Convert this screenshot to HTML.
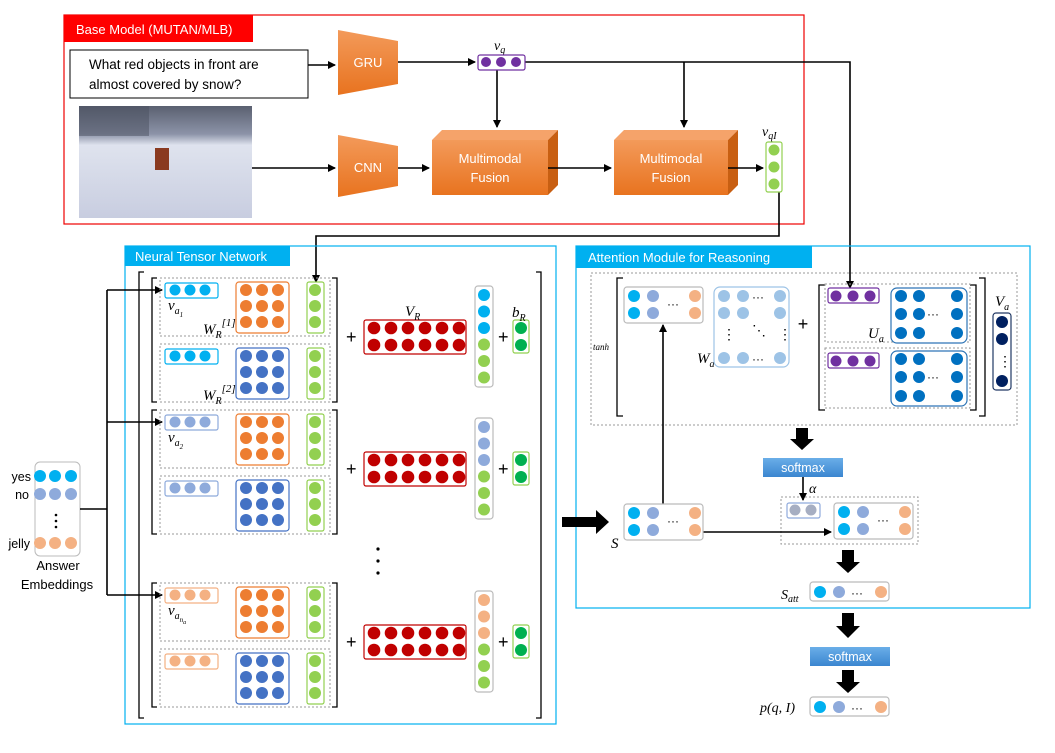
<!DOCTYPE html>
<html><head><meta charset="utf-8"><style>
body{margin:0;background:#fff}
svg{display:block}
text{font-family:"Liberation Sans",sans-serif}
.m{font-family:"Liberation Serif",serif;font-style:italic}
</style></head><body>
<svg id="s" width="1055" height="753" viewBox="0 0 1055 753" xmlns="http://www.w3.org/2000/svg">
<defs>
<marker id="a" markerWidth="8" markerHeight="8" refX="7" refY="4" orient="auto" markerUnits="userSpaceOnUse"><path d="M0,0L8,4L0,8z" fill="#000"/></marker>
<linearGradient id="og" x1="0" y1="0" x2="0" y2="1"><stop offset="0" stop-color="#f39a5a"/><stop offset="1" stop-color="#e8731f"/></linearGradient>
<linearGradient id="sg" x1="0" y1="0" x2="0" y2="1"><stop offset="0" stop-color="#6aaee8"/><stop offset="1" stop-color="#3b86d0"/></linearGradient>
<linearGradient id="snow" x1="0" y1="0" x2="0" y2="1"><stop offset="0" stop-color="#5a6070"/><stop offset="0.25" stop-color="#8c93a8"/><stop offset="0.35" stop-color="#dfe3ee"/><stop offset="1" stop-color="#c8cde0"/></linearGradient>
</defs>
<rect x="64" y="15" width="740" height="209" fill="none" stroke="#e00" stroke-width="1.2"/>
<rect x="64" y="15" width="189" height="27" fill="#f00"/>
<text x="76" y="34" font-size="13" fill="#fff">Base Model (MUTAN/MLB)</text>
<rect x="70" y="50" width="238" height="48" fill="#fff" stroke="#000"/>
<text x="89" y="69" font-size="13.5">What red objects in front are</text>
<text x="89" y="89" font-size="13.5">almost covered by snow?</text>
<rect x="79" y="106" width="173" height="112" fill="url(#snow)"/>
<rect x="79" y="106" width="70" height="30" fill="#4a5060" opacity="0.5"/>
<rect x="155" y="148" width="14" height="22" fill="#8a3a20"/>
<polygon points="338,30 398,41 398,84 338,95" fill="url(#og)"/>
<text x="368" y="67" font-size="13" fill="#fff" text-anchor="middle">GRU</text>
<polygon points="338,135 398,146 398,186 338,197" fill="url(#og)"/>
<text x="368" y="172" font-size="13" fill="#fff" text-anchor="middle">CNN</text>
<polygon points="432,140 442,130 558,130 548,140" fill="#f5a36a"/>
<polygon points="548,140 558,130 558,185 548,195" fill="#c85f12"/>
<rect x="432" y="140" width="116" height="55" fill="url(#og)"/>
<text x="490" y="163" font-size="13" fill="#fff" text-anchor="middle">Multimodal</text>
<text x="490" y="182" font-size="13" fill="#fff" text-anchor="middle">Fusion</text>
<polygon points="614,140 624,130 738,130 728,140" fill="#f5a36a"/>
<polygon points="728,140 738,130 738,185 728,195" fill="#c85f12"/>
<rect x="614" y="140" width="114" height="55" fill="url(#og)"/>
<text x="671" y="163" font-size="13" fill="#fff" text-anchor="middle">Multimodal</text>
<text x="671" y="182" font-size="13" fill="#fff" text-anchor="middle">Fusion</text>
<text x="494" y="50" font-size="14" class="m">v<tspan font-size="10" dy="3">q</tspan></text>
<text x="762" y="136" font-size="14" class="m">v<tspan font-size="10" dy="3">qI</tspan></text>
<g stroke="#000" stroke-width="1.6" fill="none">
<path d="M308,65H335" marker-end="url(#a)"/>
<path d="M398,62H475" marker-end="url(#a)"/>
<path d="M525,62H850V288" marker-end="url(#a)"/>
<path d="M497,70V127" marker-end="url(#a)"/>
<path d="M684,62V127" marker-end="url(#a)"/>
<path d="M252,168H335" marker-end="url(#a)"/>
<path d="M398,168H429" marker-end="url(#a)"/>
<path d="M548,168H611" marker-end="url(#a)"/>
<path d="M728,168H763" marker-end="url(#a)"/>
<path d="M779,192V236H316V282" marker-end="url(#a)"/>
</g>
<rect x="125" y="246" width="431" height="478" fill="none" stroke="#00b0f0" stroke-width="1.2"/>
<rect x="125" y="246" width="165" height="20" fill="#00b0f0"/>
<text x="135" y="261" font-size="13" fill="#fff">Neural Tensor Network</text>
<g stroke="#000" stroke-width="1.3" fill="none">
<path d="M144,272H139V718H144"/><path d="M536,272H541V718H536"/>
</g>
<g fill="#000"><circle cx="378" cy="549" r="1.6"/><circle cx="378" cy="561" r="1.6"/><circle cx="378" cy="573" r="1.6"/></g>
<rect x="35" y="462" width="45" height="94" rx="5" fill="#fff" stroke="#bbb"/>
<text x="31" y="481" font-size="12.5" text-anchor="end">yes</text>
<text x="29" y="499" font-size="12.5" text-anchor="end">no</text>
<text x="30" y="548" font-size="12.5" text-anchor="end">jelly</text>
<g fill="#000"><circle cx="56" cy="515" r="1.3"/><circle cx="56" cy="521" r="1.3"/><circle cx="56" cy="527" r="1.3"/></g>
<text x="58" y="570" font-size="13" text-anchor="middle">Answer</text>
<text x="57" y="589" font-size="13" text-anchor="middle">Embeddings</text>
<g stroke="#000" stroke-width="1.6" fill="none">
<path d="M80,509H107"/><path d="M107,290V595"/>
<path d="M107,290H162" marker-end="url(#a)"/>
<path d="M107,422H162" marker-end="url(#a)"/>
<path d="M107,595H162" marker-end="url(#a)"/>
</g>
<rect x="576" y="246" width="454" height="362" fill="none" stroke="#00b0f0" stroke-width="1.2"/>
<rect x="576" y="246" width="236" height="22" fill="#00b0f0"/>
<text x="588" y="262" font-size="13" fill="#fff">Attention Module for Reasoning</text>
<rect x="591" y="273" width="426" height="152" fill="none" stroke="#999" stroke-dasharray="2,2"/>
<text x="593" y="350" font-size="9" class="m">tanh</text>
<g stroke="#000" stroke-width="1.3" fill="none">
<path d="M623,278H617V416H623"/>
<path d="M825,285H819V410H825"/><path d="M970,285H976V410H970"/>
<path d="M979,278H985V416H979"/>
</g>
<rect x="825" y="284" width="145" height="58" fill="none" stroke="#999" stroke-dasharray="2,2"/>
<rect x="825" y="348" width="145" height="60" fill="none" stroke="#999" stroke-dasharray="2,2"/>
<text x="803" y="330" font-size="18" text-anchor="middle">+</text>
<text x="697" y="363" font-size="15" class="m">W<tspan font-size="10" dy="4">a</tspan></text>
<text x="868" y="338" font-size="15" class="m">U<tspan font-size="10" dy="4">a</tspan></text>
<text x="995" y="306" font-size="15" class="m">V<tspan font-size="10" dy="4">a</tspan></text>
<rect x="763" y="458" width="80" height="19" fill="url(#sg)"/>
<text x="803" y="472" font-size="12.5" fill="#fff" text-anchor="middle">softmax</text>
<text x="809" y="493" font-size="14" class="m">α</text>
<rect x="781" y="497" width="137" height="47" fill="none" stroke="#999" stroke-dasharray="2,2"/>
<text x="611" y="548" font-size="15" class="m">S</text>
<text x="781" y="599" font-size="14" class="m">S<tspan font-size="10" dy="3">att</tspan></text>
<rect x="810" y="647" width="80" height="19" fill="url(#sg)"/>
<text x="850" y="661" font-size="12.5" fill="#fff" text-anchor="middle">softmax</text>
<text x="760" y="712" font-size="14" class="m">p(q, I)</text>
<g stroke="#000" stroke-width="1.6" fill="none">
<path d="M663,504V325" marker-end="url(#a)"/>
<path d="M703,532H831" marker-end="url(#a)"/>
<path d="M803,477V500" marker-end="url(#a)"/>
</g>
<g fill="#000">
<path d="M562,517H596V510L609,522L596,534V527H562z"/>
<path d="M796,428H808V439H814L802,450L790,439H796z"/>
<path d="M842,550H854V562H860L848,573L836,562H842z"/>
<path d="M842,613H854V626H860L848,638L836,626H842z"/>
<path d="M842,670H854V682H860L848,693L836,682H842z"/>
</g>
</svg>
<script>
const NS="http://www.w3.org/2000/svg",S=document.getElementById('s');
function el(t,a){const e=document.createElementNS(NS,t);for(const k in a)e.setAttribute(k,a[k]);S.appendChild(e);return e}
function c(x,y,f,r){el('circle',{cx:x,cy:y,r:r||6,fill:f})}
function box(x,y,w,h,s,rx){el('rect',{x:x,y:y,width:w,height:h,fill:'#fff',stroke:s,'stroke-width':1.2,rx:rx||2})}
function dash(x,y,w,h){el('rect',{x:x,y:y,width:w,height:h,fill:'none',stroke:'#999','stroke-dasharray':'2,2'})}
function txt(x,y,s,sz,cls){const t=el('text',{x:x,y:y,'font-size':sz||14});if(cls)t.setAttribute('class',cls);t.innerHTML=s}
const BL='#00b0f0',LB='#8eaadb',PE='#f4b183',OR='#ed7d31',DB='#4472c4',GR='#92d050',RD='#c00000',DG='#00b050';
box(478,55,47,15,'#7030a0');[486,501,516].forEach(x=>c(x,62,'#7030a0',5));
box(766,142,16,50,GR);[150,167,184].forEach(y=>c(774,y,GR,5.5));
const offs=[0,132,305],vc=[BL,LB,PE];
offs.forEach((o,i)=>{
  const v=vc[i];
  el('path',{d:`M157,${278+o}H152V${402+o}H157`,stroke:'#000','stroke-width':1.3,fill:'none'});
  el('path',{d:`M332,${278+o}H337V${402+o}H332`,stroke:'#000','stroke-width':1.3,fill:'none'});
  [[0,OR],[66,DB]].forEach(([d,mc])=>{
    const y=o+d;
    dash(160,278+y,170,58);
    box(165,283+y,53,15,v);[175,190,205].forEach(x=>c(x,290+y,v,5.5));
    box(236,282+y,53,51,mc,3);
    [290,306,322].forEach(yy=>[246,262,278].forEach(x=>c(x,yy+y,mc,6)));
    box(307,282+y,17,51,GR);[290,306,322].forEach(yy=>c(315,yy+y,GR,6));
  });
  const p=o;
  txt(346,343+p,'+',18);
  box(364,320+p,102,34,RD,2);
  for(let k=0;k<6;k++){c(374+k*17,328+p,RD,6.3);c(374+k*17,345+p,RD,6.3)}
  box(475,286+p,18,101,'#bbb',3);
  for(let k=0;k<6;k++)c(484,295+p+k*16.5,k<3?v:GR,6);
  txt(498,343+p,'+',18);
  box(513,320+p,16,33,GR);c(521,328+p,DG,6);c(521,345+p,DG,6);
});
txt(405,316,'V<tspan font-size="10" dy="4">R</tspan>',15,'m');
txt(512,317,'b<tspan font-size="10" dy="4">R</tspan>',15,'m');
txt(168,310,'v<tspan font-size="10" dy="4">a<tspan font-size="7" dy="3">1</tspan></tspan>',15,'m');
txt(203,334,'W<tspan font-size="10" dy="4">R</tspan><tspan font-size="11" dy="-12">[1]</tspan>',15,'m');
txt(203,400,'W<tspan font-size="10" dy="4">R</tspan><tspan font-size="11" dy="-12">[2]</tspan>',15,'m');
txt(168,442,'v<tspan font-size="10" dy="4">a<tspan font-size="7" dy="3">2</tspan></tspan>',15,'m');
txt(168,615,'v<tspan font-size="10" dy="4">a<tspan font-size="7" dy="3">n<tspan font-size="6" dy="2">a</tspan></tspan></tspan>',15,'m');
[[476,BL],[494,LB],[543,PE]].forEach(([y,f])=>[40,55,71].forEach(x=>c(x,y,f,6)));
function smat(x,y){box(x,y,79,36,'#bbb',3);c(x+10,y+9,BL,6);c(x+10,y+26,BL,6);c(x+29,y+9,LB,6);c(x+29,y+26,LB,6);
 c(x+71,y+9,PE,6);c(x+71,y+26,PE,6);txt(x+43,y+21,'···',12)}
smat(624,287);smat(624,504);smat(834,503);
box(714,287,75,80,'#9dc3e6',6);
const W='#9dc3e6';[296,313].forEach(y=>{c(724,y,W,6);c(743,y,W,6);c(780,y,W,6)});[724,743,780].forEach(x=>c(x,358,W,6));
txt(752,301,'···',12);txt(752,363,'···',12);txt(722,339,'⋮',14);txt(778,339,'⋮',14);txt(752,335,'⋱',14);
[[288,288],[353,351]].forEach(([py,my])=>{
 box(828,py,51,15,'#7030a0');[836,853,870].forEach(x=>c(x,py+8,'#7030a0',5.5));
 box(891,my,76,55,'#2e75b6',6);
 [8,26,45].forEach(d=>[901,919,957].forEach(x=>c(x,my+d,'#0070c0',6)));
 txt(927,my+30,'···',12);
});
box(993,313,18,77,'#203864',3);[322,339,381].forEach(y=>c(1002,y,'#002060',6));txt(998,366,'⋮',14);
box(787,503,33,15,'#8faadc');c(795,510,'#a6aec2',5.5);c(811,510,'#a6aec2',5.5);
function vec(x,y){box(x,y,79,19,'#bbb',3);c(x+10,y+10,BL,6);c(x+29,y+10,LB,6);c(x+71,y+10,PE,6);txt(x+41,y+15,'···',12)}
vec(810,582);vec(810,697);
</script>
</body></html>
